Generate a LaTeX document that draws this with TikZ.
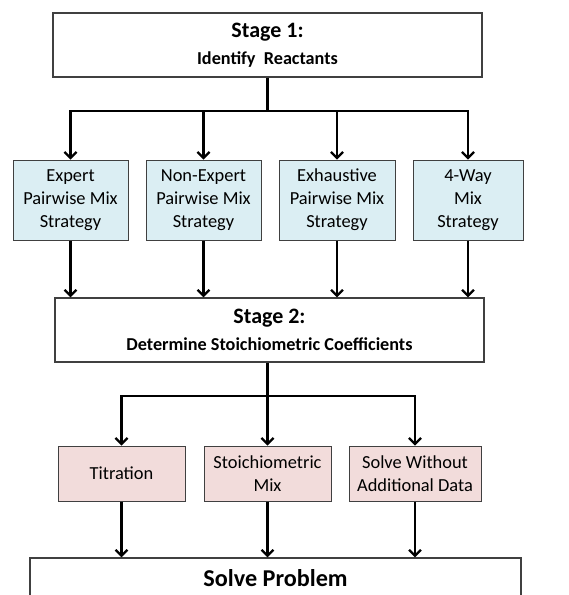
\documentclass[tikz,border=0pt]{standalone}
\usepackage{fontspec}
\setmainfont{Carlito}
\usetikzlibrary{arrows.meta}
\definecolor{bluefill}{HTML}{DBEEF3}
\definecolor{pinkfill}{HTML}{F2DCDB}
\definecolor{edge}{HTML}{404040}
\tikzset{
  stagebox/.style={draw=edge, line width=1.3pt, fill=white, align=center, inner sep=0pt},
  bluebox/.style={draw=edge, line width=1pt, fill=bluefill, align=center, inner sep=0pt, minimum height=80pt,
     font=\fontsize{18.4}{23}\selectfont},
  pinkbox/.style={draw=edge, line width=1pt, fill=pinkfill, align=center, inner sep=0pt, minimum height=55pt,
     font=\fontsize{18.4}{23}\selectfont},
  conn/.style={line width=2.3pt, black},
  arr/.style={conn, -{Straight Barb[length=6pt, width=12pt, line width=2.2pt]}},
}
\begin{document}
\begin{tikzpicture}[x=1pt, y=-1pt]
\useasboundingbox (0,0) rectangle (569,595);
\clip (0,0) rectangle (569,595);
% Stage 1
\node[stagebox, minimum width=429pt, minimum height=64pt] (s1) at (267.5,45)
  {\fontsize{22}{24}\selectfont\bfseries Stage 1:\\[9pt]\fontsize{18.2}{20}\selectfont\bfseries Identify~ Reactants};
% blue boxes
\node[bluebox, minimum width=115pt] (b1) at (70.5,200) {Expert\\Pairwise Mix\\Strategy};
\node[bluebox, minimum width=115pt] (b2) at (203.5,200) {Non-Expert\\Pairwise Mix\\Strategy};
\node[bluebox, minimum width=116pt] (b3) at (337,200) {Exhaustive\\Pairwise Mix\\Strategy};
\node[bluebox, minimum width=110pt] (b4) at (468,200) {4-Way\\Mix\\Strategy};
% Stage 2
\node[stagebox, minimum width=429pt, minimum height=64pt] (s2) at (269.5,330)
  {\fontsize{22}{24}\selectfont\bfseries Stage 2:\\[9pt]\fontsize{18.2}{20}\selectfont\bfseries Determine Stoichiometric Coefficients};
% pink boxes
\node[pinkbox, minimum width=127pt] (p1) at (121.5,473.5) {Titration};
\node[pinkbox, minimum width=127pt] (p2) at (267.5,473.5) {Stoichiometric\\Mix};
\node[pinkbox, minimum width=132pt] (p3) at (415,473.5) {Solve Without\\Additional Data};
% Solve problem
\node[stagebox, minimum width=491pt, minimum height=40pt, font=\fontsize{24.2}{28}\selectfont\bfseries] (sp) at (275.5,578) {Solve Problem};
% connectors stage 1
\coordinate (j1) at (267.5,111);
\draw[conn] (s1.south) -- (j1);
\draw[arr] (j1) -| (b1.north);
\draw[arr] (j1) -| (b2.north);
\draw[arr] (j1) -| (b3.north);
\draw[arr] (j1) -| (b4.north);
% blue to stage 2
\draw[arr] (b1.south) -- (b1.south |- s2.north);
\draw[arr] (b2.south) -- (b2.south |- s2.north);
\draw[arr] (b3.south) -- (b3.south |- s2.north);
\draw[arr] (b4.south) -- (b4.south |- s2.north);
% stage 2 to pink
\coordinate (j2) at (267.5,396);
\draw[conn] (s2.south -| j2) -- (j2);
\draw[arr] (j2) -| (p1.north);
\draw[arr] (j2) -- (p2.north);
\draw[arr] (j2) -| (p3.north);
% pink to solve
\draw[arr] (p1.south) -- (p1.south |- sp.north);
\draw[arr] (p2.south) -- (p2.south |- sp.north);
\draw[arr] (p3.south) -- (p3.south |- sp.north);
\end{tikzpicture}
\end{document}
